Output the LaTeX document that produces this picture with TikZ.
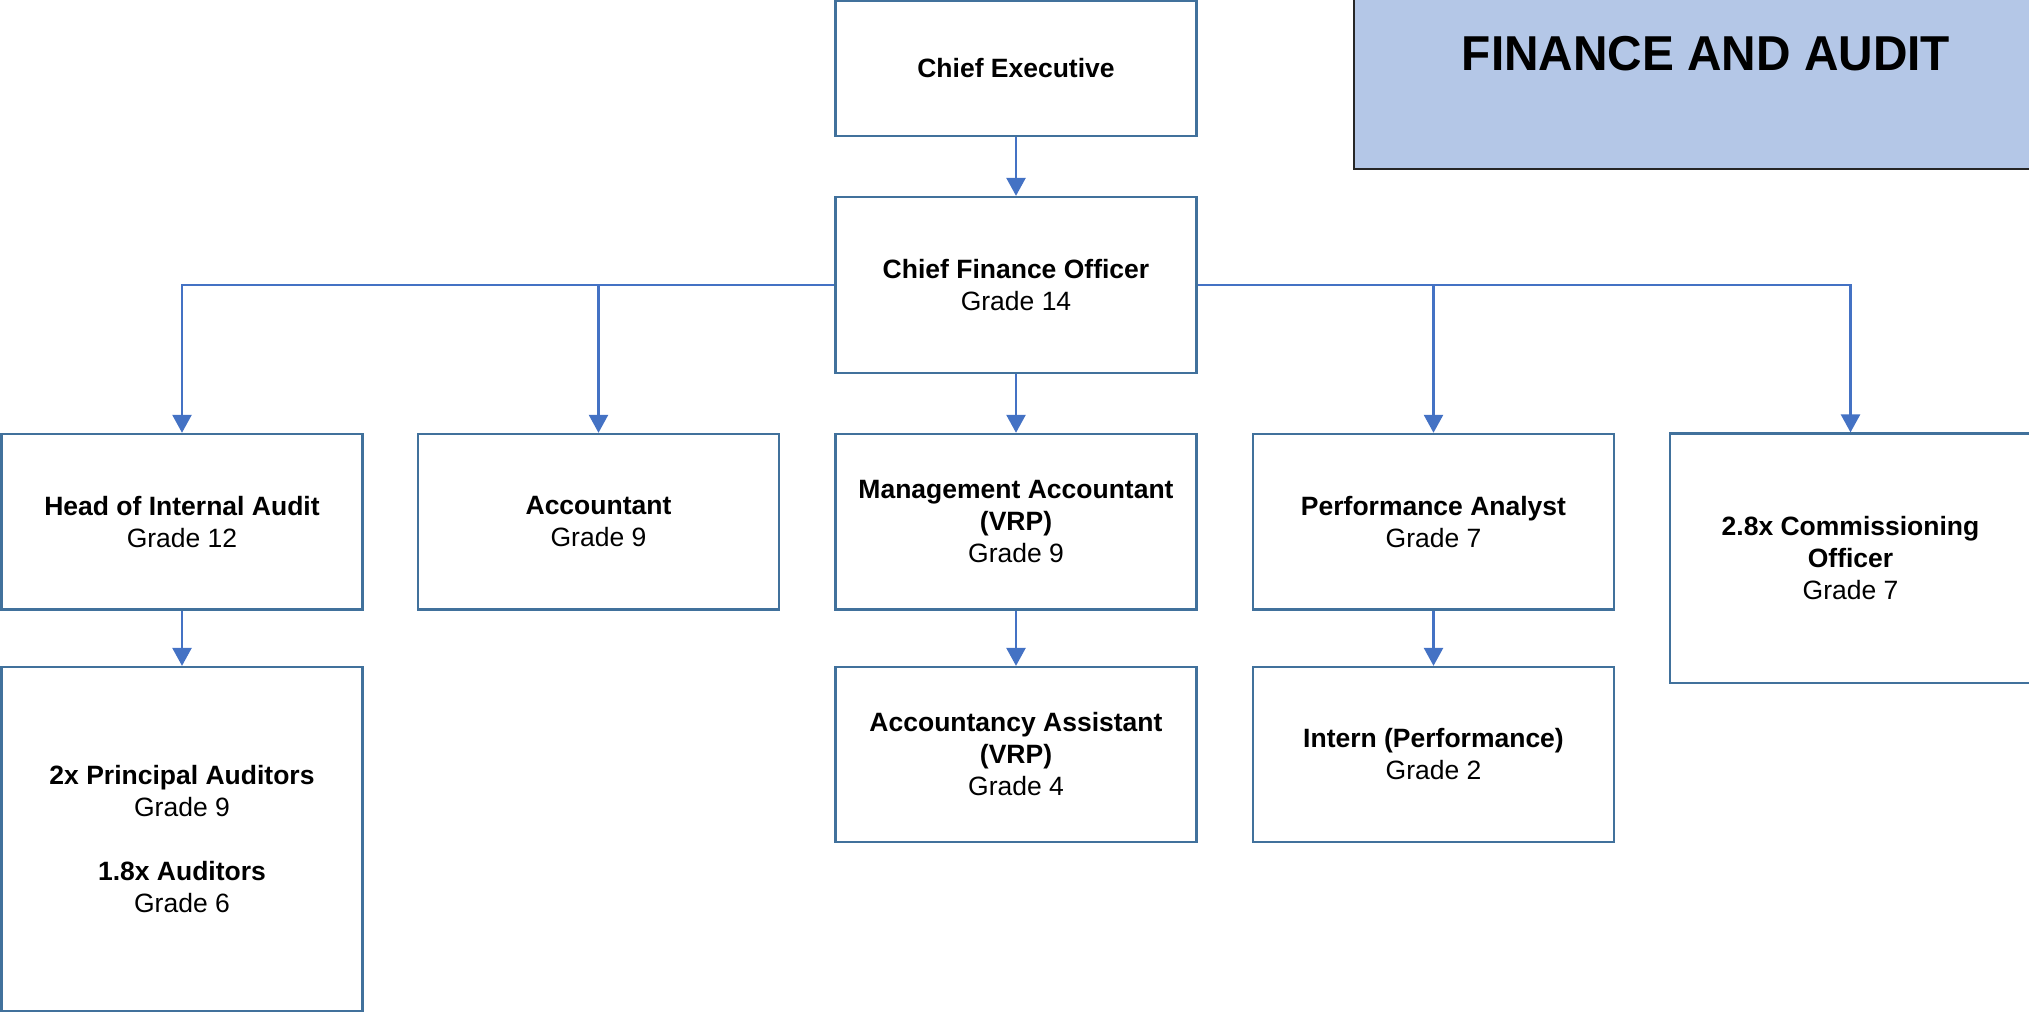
\documentclass[tikz,border=0pt]{standalone}
\usepackage{fontspec}
\setmainfont{Liberation Sans}
\usepackage{graphicx}
\usetikzlibrary{arrows.meta}
\definecolor{boxblue}{HTML}{41719C}
\definecolor{linkblue}{HTML}{4472C4}
\definecolor{titlefill}{HTML}{B4C7E7}
\begin{document}
\begin{tikzpicture}[x=1pt,y=-1pt,
  box/.style={draw=boxblue, line width=2.3pt, fill=white, inner sep=0pt, align=center,
    minimum width=361pt, font=\fontsize{26.5}{32}\selectfont},
  link/.style={draw=linkblue, line width=2.6pt, -{Triangle[width=19pt,length=18pt]}},
]
\useasboundingbox (0,0) rectangle (2029,1013);
% title
\path[fill=titlefill, draw=black!85, line width=1.3pt] (1354,-5) rectangle (2040,169);
\node[inner sep=0pt, font=\fontsize{49}{50}\selectfont\bfseries] (title) at (1706,53.5) {\scalebox{0.975}[1]{FINANCE AND AUDIT}};
% nodes
\node[box, minimum height=135pt] (ce) at (1016,68.5) {\textbf{Chief Executive}};
\node[box, minimum height=176pt] (cfo) at (1016,285) {\textbf{Chief Finance Officer}\\Grade 14};
\node[box, minimum height=175.5pt] (hia) at (182,521.7) {\textbf{Head of Internal Audit}\\Grade 12};
\node[box, minimum height=175.5pt] (acc) at (598.5,521.7) {\textbf{Accountant}\\Grade 9};
\node[box, minimum height=175.5pt] (ma) at (1016,521.7) {\textbf{Management Accountant}\\\textbf{(VRP)}\\Grade 9};
\node[box, minimum height=175.5pt] (pa) at (1433.5,521.7) {\textbf{Performance Analyst}\\Grade 7};
\node[box, minimum height=249.5pt] (co) at (1850.5,558.3) {\textbf{2.8x Commissioning}\\\textbf{Officer}\\Grade 7};
\node[box, minimum height=344pt] (aud) at (182,839) {\textbf{2x Principal Auditors}\\Grade 9\\[32pt]\textbf{1.8x Auditors}\\Grade 6};
\node[box, minimum height=175pt] (aa) at (1016,754.5) {\textbf{Accountancy Assistant}\\\textbf{(VRP)}\\Grade 4};
\node[box, minimum height=175pt] (in) at (1433.5,754.5) {\textbf{Intern (Performance)}\\Grade 2};
% connectors
\draw[link] (ce.south) -- (cfo.north);
\draw[link] (cfo.west) -| (hia.north);
\draw[link] (cfo.west) -| (acc.north);
\draw[link] (cfo.south) -- (ma.north);
\draw[link] (cfo.east) -| (pa.north);
\draw[link] (cfo.east) -| (co.north);
\draw[link] (hia.south) -- (aud.north);
\draw[link] (ma.south) -- (aa.north);
\draw[link] (pa.south) -- (in.north);
\end{tikzpicture}
\end{document}
